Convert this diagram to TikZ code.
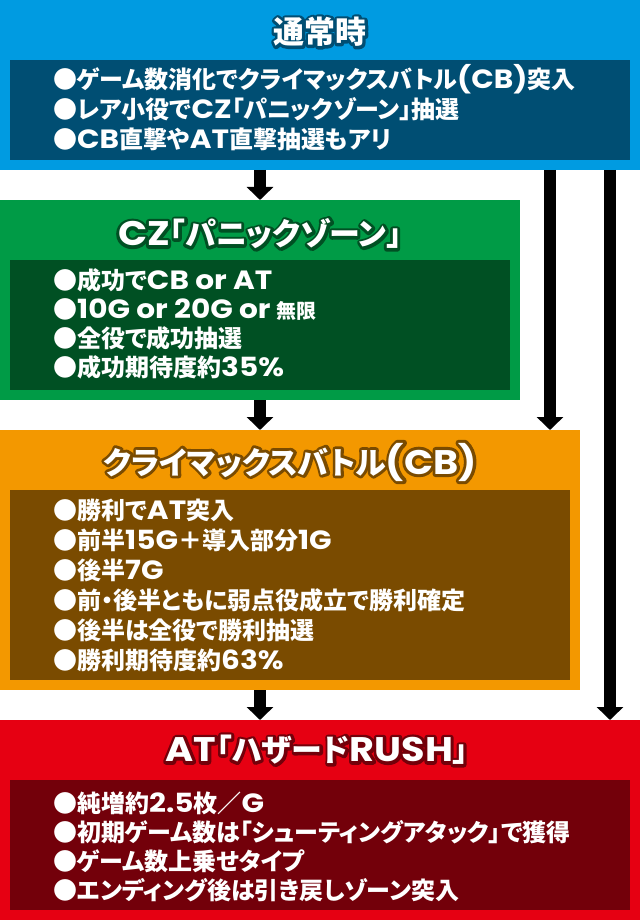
\documentclass[tikz,border=0pt]{standalone}
\usepackage{fontspec}
\setmainfont{Noto Sans CJK JP}[RawFeature=+palt]
\newfontfamily\jpO{Noto Sans CJK JP}[RawFeature=+palt, BoldFeatures={FakeBold=18}]
\newfontfamily\lat{Poppins}[Scale=1.1, FakeStretch=1.12]
\newfontfamily\latO{Poppins}[Scale=1.1, FakeStretch=1.12, BoldFeatures={FakeBold=18}]
\newcommand\latn[1]{{\lat #1}}
\usetikzlibrary{arrows.meta}
\definecolor{cBlue}{RGB}{0,155,225}
\definecolor{cBlueD}{RGB}{0,78,115}
\definecolor{cGreen}{RGB}{0,155,70}
\definecolor{cGreenD}{RGB}{0,80,35}
\definecolor{cOrange}{RGB}{243,152,0}
\definecolor{cOrangeD}{RGB}{122,75,0}
\definecolor{cRed}{RGB}{230,0,18}
\definecolor{cRedD}{RGB}{115,0,10}
\newcommand\outlinedtext[2]{%
  \rlap{\color{#1}\jpO\bfseries\let\lat\latO #2}{\color{white}#2}}
\tikzset{
  panel/.style={draw=none, inner sep=0pt, outer sep=0pt, anchor=north west},
  bodyline/.style={anchor=base west, inner sep=0pt, text=white, font=\fontsize{24}{28}\selectfont\bfseries},
  ttl/.style={inner sep=0pt, line join=round, font=\fontsize{31}{35}\selectfont\bfseries},
  arr/.style={draw=black, line width=12pt, -{Triangle[width=26pt,length=13pt]}},
}
\begin{document}
\begin{tikzpicture}[x=1pt,y=-1pt]
\useasboundingbox (0,0) rectangle (640,920);
\fill[white] (0,0) rectangle (640,920);
% panels
\node[panel, fill=cBlue, minimum width=640pt, minimum height=170pt] (nb) at (0,0) {};
\node[panel, fill=cBlueD, minimum width=620pt, minimum height=100pt] (nbi) at (10,60) {};
\node[panel, fill=cGreen, minimum width=520pt, minimum height=200pt] (gz) at (0,200) {};
\node[panel, fill=cGreenD, minimum width=500pt, minimum height=130pt] (gzi) at (10,260) {};
\node[panel, fill=cOrange, minimum width=580pt, minimum height=260pt] (cb) at (0,430) {};
\node[panel, fill=cOrangeD, minimum width=560pt, minimum height=190pt] (cbi) at (10,490) {};
\node[panel, fill=cRed, minimum width=640pt, minimum height=200pt] (at) at (0,720) {};
\node[panel, fill=cRedD, minimum width=620pt, minimum height=130pt] (ati) at (10,780) {};
% titles
\node[ttl] (t1) at (320,32) {\outlinedtext{cBlueD}{通常時}};
\node[ttl] (t2) at (260,234) {\outlinedtext{cGreenD}{\latn{CZ}「パニックゾーン」}};
\node[ttl] (t3) at (290,462) {\outlinedtext{cOrangeD}{クライマックスバトル\latn{(CB)}}};
\node[ttl] (t4) at (317,750) {\outlinedtext{cRedD}{\latn{AT}「ハザード\latn{RUSH}」}};
% body lines
\node[bodyline] (b1) at (53,89) {●ゲーム数消化でクライマックスバトル\latn{(CB)}突入};
\node[bodyline] (b2) at (53,119) {●レア小役で\latn{CZ}「パニックゾーン」抽選};
\node[bodyline] (b3) at (53,149) {●\latn{CB}直撃や\latn{AT}直撃抽選もアリ};
\node[bodyline] (g1) at (53,289) {●成功で\latn{CB or AT}};
\node[bodyline] (g2) at (53,318) {●\latn{10G or 20G or} {\fontsize{20}{24}\selectfont 無限}};
\node[bodyline] (g3) at (53,347) {●全役で成功抽選};
\node[bodyline] (g4) at (53,376) {●成功期待度約\latn{35\%}};
\node[bodyline] (o1) at (53,519) {●勝利で\latn{AT}突入};
\node[bodyline] (o2) at (53,549) {●前半\latn{15G}＋導入部分\latn{1G}};
\node[bodyline] (o3) at (53,579) {●後半\latn{7G}};
\node[bodyline] (o4) at (53,609) {●前・後半ともに弱点役成立で勝利確定};
\node[bodyline] (o5) at (53,639) {●後半は全役で勝利抽選};
\node[bodyline] (o6) at (53,669) {●勝利期待度約\latn{63\%}};
\node[bodyline] (r1) at (53,812) {●純増約\latn{2.5}枚／\latn{G}};
\node[bodyline] (r2) at (53,841) {●初期ゲーム数は「シューティングアタック」で獲得};
\node[bodyline] (r3) at (53,870) {●ゲーム数上乗せタイプ};
\node[bodyline] (r4) at (53,899) {●エンディング後は引き戻しゾーン突入};
% arrows
\coordinate (k1) at ([xshift=-30pt]cb.north east);
\coordinate (k2) at ([xshift=-30pt]at.north east);
\draw[arr] (nb.south -| gz.north) -- (gz.north);
\draw[arr] (gz.south) -- (cb.north -| gz.south);
\draw[arr] (cb.south -| gz.south) -- (at.north -| gz.south);
\draw[arr] (nb.south -| k1) -- (k1);
\draw[arr] (nb.south -| k2) -- (k2);
\end{tikzpicture}
\end{document}
